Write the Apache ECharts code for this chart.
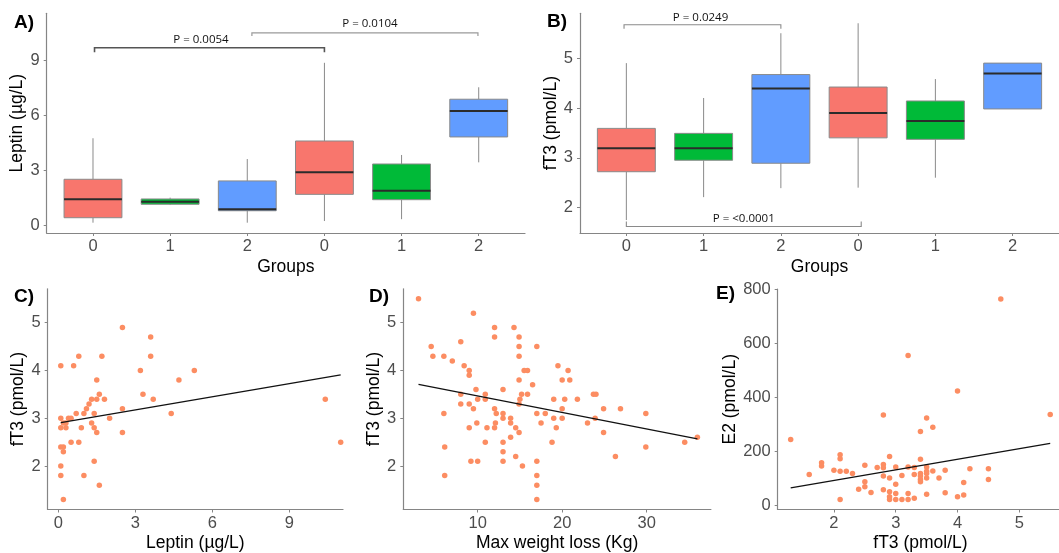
<!DOCTYPE html>
<html><head><meta charset="utf-8">
<script src="https://cdn.jsdelivr.net/npm/echarts@6/dist/echarts.min.js"></script>
<style>html,body{margin:0;padding:0;background:#fff}#c{width:1059px;height:553px}</style>
</head><body><div id="c"></div>
<script>
// ---------- data ----------
const groupLabels = ['0','1','2','0','1','2'];
const groupPos = [0,1,2,3,4,5];

// Panel A: Leptin boxplots
const leptinLow  = [0.16,1.12,0.16,0.25,0.35,3.44];
const leptinQ1   = [0.43,1.16,0.81,1.70,1.41,4.82];
const leptinMed  = [1.43,1.30,0.89,2.90,1.90,6.23];
const leptinQ3   = [2.52,1.45,2.43,4.60,3.35,6.87];
const leptinHigh = [4.75,1.52,3.62,8.85,3.84,7.52];

// Panel B: fT3 boxplots
const ft3Low  = [1.75,2.21,2.39,2.40,2.60,3.98];
const ft3Q1   = [2.72,2.95,2.89,3.40,3.37,3.98];
const ft3Med  = [3.19,3.19,4.39,3.90,3.74,4.69];
const ft3Q3   = [3.59,3.49,4.67,4.42,4.14,4.90];
const ft3High = [4.90,4.20,5.50,5.70,4.58,4.90];

// significance brackets (data coords)
const pLabelsA = ['P = 0.0054','P = 0.0104'];
const bracketA_x0 = [0.02,2.06], bracketA_x1 = [3.0,4.99];
const bracketA_y = [9.67,10.48], bracketA_yEnd = [9.42,10.30];
const bracketA_tx = [1.40,3.59], bracketA_ty = [10.12,10.97];
const pLabelsB = ['P = 0.0249','P = <0.0001'];
const bracketB_x0 = [-0.03,0.0], bracketB_x1 = [2.0,3.04];
const bracketB_y = [5.67,1.62], bracketB_yEnd = [5.59,1.72];
const bracketB_tx = [0.96,1.52], bracketB_ty = [5.82,1.77];

// Panel C: Leptin vs fT3
const leptinC = [0.1,0.8,0.6,1.7,2.5,3.6,3.6,3.2,5.3,1.5,4.7,1.6,3.3,1.3,1.5,1.8,3.7,10.4,1.2,1.1,2.5,1.0,0.7,1.4,4.4,0.1,0.4,0.5,2.0,0.2,0.3,1.3,0.1,0.3,0.9,1.4,1.5,2.5,0.5,0.8,11.0,0.1,0.2,0.2,1.4,0.1,0.1,1.0,1.6,0.2];
const ft3C    = [4.1,4.3,4.1,4.3,4.9,4.7,4.3,4.0,4.0,3.8,3.8,3.5,3.5,3.4,3.4,3.4,3.4,3.4,3.3,3.2,3.2,3.1,3.1,3.1,3.1,3.0,3.0,3.0,3.0,2.9,2.9,2.9,2.8,2.8,2.8,2.8,2.7,2.7,2.5,2.5,2.5,2.4,2.4,2.3,2.1,2.0,1.8,1.8,1.6,1.3];
const trendC_x = [0.1,11.0], trendC_y = [2.91,3.91];

// Panel D: Max weight loss vs fT3
const weightLossD = [3.0,9.5,12.0,14.3,12.0,14.9,8.0,4.5,14.9,17.0,4.7,6.0,14.9,7.0,8.4,19.5,9.0,15.5,15.9,20.7,9.0,14.9,20.0,20.9,16.5,9.8,13.0,8.0,10.9,15.2,15.9,23.7,24.0,10.0,10.9,15.0,19.0,20.3,21.8,8.0,9.0,14.9,9.5,12.0,20.0,24.9,26.9,6.0,12.2,13.0,17.0,18.0,29.9,13.0,13.9,19.0,20.0,23.9,9.9,12.1,13.9,17.5,23.0,9.0,11.1,12.0,14.5,19.3,14.9,24.9,13.9,36.0,10.9,13.0,18.8,34.5,6.1,29.9,13.0,14.5,26.3,9.2,10.0,13.0,17.0,15.3,6.1,17.0,17.0,17.0];
const ft3D = [5.5,5.2,4.9,4.9,4.7,4.7,4.6,4.5,4.5,4.5,4.3,4.3,4.3,4.2,4.1,4.1,4.0,4.0,4.0,4.0,3.9,3.8,3.8,3.8,3.7,3.6,3.6,3.5,3.5,3.5,3.5,3.5,3.5,3.4,3.4,3.4,3.4,3.4,3.4,3.3,3.3,3.3,3.2,3.2,3.2,3.2,3.2,3.1,3.1,3.1,3.1,3.1,3.1,3.0,3.0,3.0,3.0,3.0,2.9,2.9,2.9,2.9,2.9,2.8,2.8,2.8,2.8,2.8,2.7,2.7,2.6,2.6,2.5,2.5,2.5,2.5,2.4,2.4,2.3,2.2,2.2,2.1,2.1,2.1,2.1,2.0,1.8,1.8,1.6,1.3];
const trendD_x = [3.0,36.0], trendD_y = [3.71,2.57];

// Panel E: fT3 vs E2
const ft3E = [1.3,1.6,1.8,1.8,2.0,2.1,2.1,2.1,2.2,2.1,2.3,2.4,2.5,2.5,2.5,2.6,2.7,2.8,2.8,2.8,2.8,2.8,2.9,2.9,2.9,2.9,2.9,3.0,3.0,3.0,3.0,3.1,3.1,3.2,3.2,3.2,3.2,3.3,3.3,3.3,3.4,3.4,3.4,3.4,3.4,3.4,3.5,3.5,3.5,3.5,3.5,3.5,3.6,3.6,3.7,3.8,3.8,4.0,4.0,4.1,4.1,4.2,4.5,4.5,4.7,5.5];
const e2E  = [244,114,157,145,130,187,172,126,126,21,118,59,148,87,68,47,140,335,151,139,108,57,181,101,50,31,21,142,78,43,21,110,21,555,142,43,21,140,114,26,273,170,118,108,95,87,323,142,126,118,101,41,289,127,101,130,46,424,31,84,38,135,135,95,765,336];
const trendE_x = [1.3,5.5], trendE_y = [64,229];

// tick values
const ticksA_y = [0,3,6,9];
const ticksB_y = [2,3,4,5];
const ticksC_x = [0,3,6,9];
const ticksCD_y = [2,3,4,5];
const ticksD_x = [10,20,30];
const ticksE_x = [2,3,4,5];
const ticksE_y = [0,200,400,600,800];

// ---------- styles ----------
const boxColors = ['#F8766D','#00BA38','#619CFF','#F8766D','#00BA38','#619CFF'];
const AX = '#858585', TXT = '#4d4d4d', FONT = '"Liberation Sans", Arial, sans-serif';
const POINT = '#FC8D62';

const chart = echarts.init(document.getElementById('c'));

function axis(o){
  return {
    type:'value', gridIndex:o.grid, min:o.min, max:o.max,
    name:o.name, nameLocation:'middle', nameGap:o.gap,
    nameTextStyle:{color:'#000', fontSize:17.5, fontFamily:FONT},
    axisLine:{show:true, onZero:false, lineStyle:{color:AX, width:1.2}},
    axisTick:{show:true, length:3, customValues:o.ticks, lineStyle:{color:AX}},
    axisLabel:{show:true, customValues:o.ticks, color:TXT, fontSize:16.5, fontFamily:FONT,
      margin:o.margin, formatter:o.fmt || (v => String(v))},
    splitLine:{show:false}
  };
}

function boxSeries(xi, low, q1, med, q3, high){
  return {
    type:'custom', xAxisIndex:xi, yAxisIndex:xi, silent:true,
    encode:{x:0, y:[1,2,3,4,5]},
    data: groupPos.map((p,i)=>[p, low[i], q1[i], med[i], q3[i], high[i]]),
    renderItem:(params, api)=>{
      const x = api.value(0);
      const pLo = api.coord([x, api.value(1)]), pQ1 = api.coord([x, api.value(2)]);
      const pMd = api.coord([x, api.value(3)]), pQ3 = api.coord([x, api.value(4)]);
      const pHi = api.coord([x, api.value(5)]);
      const w = api.size([0.75, 0])[0];
      const cx = pMd[0];
      const col = boxColors[params.dataIndex];
      const ws = {stroke:'#8a8a8a', lineWidth:1};
      return {type:'group', children:[
        {type:'line', shape:{x1:cx, y1:pLo[1], x2:cx, y2:pQ1[1]}, style:ws},
        {type:'line', shape:{x1:cx, y1:pQ3[1], x2:cx, y2:pHi[1]}, style:ws},
        {type:'rect', shape:{x:cx-w/2, y:pQ3[1], width:w, height:pQ1[1]-pQ3[1]},
          style:{fill:col, stroke:'#8a8a8a', lineWidth:1}},
        {type:'line', shape:{x1:cx-w/2, y1:pMd[1], x2:cx+w/2, y2:pMd[1]},
          style:{stroke:'#2b2b2b', lineWidth:2}}
      ]};
    }
  };
}

function bracketSeries(xi, x0, x1, y, yEnd, tx, ty, labels, strokes, widths){
  return {
    type:'custom', xAxisIndex:xi, yAxisIndex:xi, silent:true, clip:false,
    encode:{x:[0,1], y:[2,3]},
    data: x0.map((v,i)=>[v, x1[i], y[i], yEnd[i], tx[i], ty[i]]),
    renderItem:(params, api)=>{
      const i = params.dataIndex;
      const a = api.coord([api.value(0), api.value(3)]);
      const b = api.coord([api.value(0), api.value(2)]);
      const c = api.coord([api.value(1), api.value(2)]);
      const d = api.coord([api.value(1), api.value(3)]);
      const t = api.coord([api.value(4), api.value(5)]);
      return {type:'group', children:[
        {type:'polyline', shape:{points:[a,b,c,d]},
          style:{stroke:strokes[i], lineWidth:widths[i], fill:null}},
        {type:'text', x:t[0], y:t[1],
          style:{text:labels[i], align:'center', verticalAlign:'middle',
            fontSize:11.5, fontFamily:'"Open Sans", "Noto Sans", sans-serif', fill:'#111'}}
      ]};
    }
  };
}

function scatterSeries(xi, xs, ys){
  return {type:'scatter', xAxisIndex:xi, yAxisIndex:xi, symbolSize:5.5,
    itemStyle:{color:POINT, opacity:1}, data: xs.map((x,i)=>[x, ys[i]])};
}
function trendSeries(xi, xs, ys){
  return {type:'line', xAxisIndex:xi, yAxisIndex:xi, showSymbol:false, silent:true,
    lineStyle:{color:'#111', width:1.3}, data: xs.map((x,i)=>[x, ys[i]])};
}

const grids = [
  {left:46.7, top:13.3, width:478.3, height:219.7},
  {left:580,  top:13.3, width:479,   height:219.7},
  {left:47.7, top:288.8, width:295.3, height:220.7},
  {left:403.3, top:288.8, width:307.6, height:220.7},
  {left:777.7, top:289, width:285.5, height:220.5}
].map(g=>Object.assign({containLabel:false, outerBoundsMode:'none', show:false}, g));

const gFmt = v => groupLabels[Math.round(v)];

const option = {
  animation:false,
  backgroundColor:'#fff',
  grid: grids,
  xAxis: [
    axis({grid:0, min:-0.6, max:5.6, ticks:groupPos, name:'Groups', gap:25, margin:5, fmt:gFmt}),
    axis({grid:1, min:-0.6, max:5.6, ticks:groupPos, name:'Groups', gap:25, margin:5, fmt:gFmt}),
    axis({grid:2, min:-0.41, max:11.09, ticks:ticksC_x, name:'Leptin (µg/L)', gap:25, margin:5}),
    axis({grid:3, min:1.2, max:37.6, ticks:ticksD_x, name:'Max weight loss (Kg)', gap:25, margin:5}),
    axis({grid:4, min:1.09, max:5.71, ticks:ticksE_x, name:'fT3 (pmol/L)', gap:25, margin:5})
  ],
  yAxis: [
    axis({grid:0, min:-0.4, max:11.54, ticks:ticksA_y, name:'Leptin (µg/L)', gap:13, margin:7}),
    axis({grid:1, min:1.49, max:5.9, ticks:ticksB_y, name:'fT3 (pmol/L)', gap:13, margin:7}),
    axis({grid:2, min:1.09, max:5.71, ticks:ticksCD_y, name:'fT3 (pmol/L)', gap:11, margin:7}),
    axis({grid:3, min:1.09, max:5.71, ticks:ticksCD_y, name:'fT3 (pmol/L)', gap:11, margin:7}),
    axis({grid:4, min:-16, max:802, ticks:ticksE_y, name:'E2 (pmol/L)', gap:35, margin:7})
  ],
  series: [
    boxSeries(0, leptinLow, leptinQ1, leptinMed, leptinQ3, leptinHigh),
    bracketSeries(0, bracketA_x0, bracketA_x1, bracketA_y, bracketA_yEnd, bracketA_tx, bracketA_ty,
      pLabelsA, ['#555','#9a9a9a'], [1.6,1.2]),
    boxSeries(1, ft3Low, ft3Q1, ft3Med, ft3Q3, ft3High),
    bracketSeries(1, bracketB_x0, bracketB_x1, bracketB_y, bracketB_yEnd, bracketB_tx, bracketB_ty,
      pLabelsB, ['#8a8a8a','#8a8a8a'], [1.1,1.1]),
    scatterSeries(2, leptinC, ft3C),
    trendSeries(2, trendC_x, trendC_y),
    scatterSeries(3, weightLossD, ft3D),
    trendSeries(3, trendD_x, trendD_y),
    scatterSeries(4, ft3E, e2E),
    trendSeries(4, trendE_x, trendE_y)
  ],
  graphic: [
    {type:'text', left:14, top:13, style:{text:'A)', font:'bold 19px "Liberation Sans", Arial', fill:'#000'}},
    {type:'text', left:547, top:12, style:{text:'B)', font:'bold 19px "Liberation Sans", Arial', fill:'#000'}},
    {type:'text', left:14, top:287, style:{text:'C)', font:'bold 19px "Liberation Sans", Arial', fill:'#000'}},
    {type:'text', left:369, top:287, style:{text:'D)', font:'bold 19px "Liberation Sans", Arial', fill:'#000'}},
    {type:'text', left:716, top:284, style:{text:'E)', font:'bold 19px "Liberation Sans", Arial', fill:'#000'}}
  ]
};
chart.setOption(option);
</script>
</body></html>
